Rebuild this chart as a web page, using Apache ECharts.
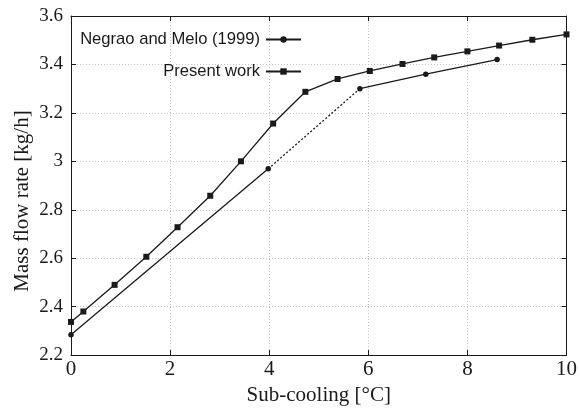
<!DOCTYPE html>
<html>
<head>
<meta charset="utf-8">
<script src="https://cdn.jsdelivr.net/npm/echarts@6/dist/echarts.min.js"></script>
<style>
  html, body { margin: 0; padding: 0; background: #fff; }
  #chart { width: 580px; height: 411px; }
</style>
</head>
<body>
<div id="chart"></div>
<script>
// Sub-cooling [°C] and mass flow rate [kg/h]
const presentX = [0, 0.25, 0.88, 1.52, 2.15, 2.81, 3.43, 4.08, 4.73, 5.38, 6.03, 6.69, 7.33, 8.0, 8.64, 9.31, 10];
const presentY = [2.337, 2.38, 2.49, 2.606, 2.728, 2.858, 3.0, 3.156, 3.287, 3.34, 3.373, 3.402, 3.429, 3.454, 3.478, 3.502, 3.524];

const negraoX = [0, 3.98, 5.83, 7.16, 8.6];
const negraoY = [2.284, 2.969, 3.30, 3.36, 3.42];
// indices of the two Negrao points joined by a dotted segment
const negraoGap = [1, 2];

const xTicks = [0, 2, 4, 6, 8, 10];
const yTicks = [2.2, 2.4, 2.6, 2.8, 3, 3.2, 3.4, 3.6];

const nameNegrao = 'Negrao and Melo (1999)';
const namePresent = 'Present work';
const xTitle = 'Sub-cooling [°C]';
const yTitle = 'Mass flow rate [kg/h]';

const pair = (xs, ys) => xs.map((x, i) => [x, ys[i]]);
const presentData = pair(presentX, presentY);
const negraoAll = pair(negraoX, negraoY);
// solid pieces: break the line across the dotted gap
const negraoSolid = [];
negraoAll.forEach((p, i) => {
  negraoSolid.push(p);
  if (i === negraoGap[0]) negraoSolid.push(['-', '-']);
});
const negraoDotted = negraoGap.map(i => negraoAll[i]);

const serif = 'Liberation Serif';
const sans = 'Liberation Sans';
const ink = '#1a1a1a';

const gridLine = { show: true, lineStyle: { color: '#c4c4c4', type: [1, 2], width: 1 } };

const legendBase = {
  right: 278, align: 'right', padding: 0,
  itemWidth: 35, itemHeight: 8, itemGap: 0,
  textStyle: { fontFamily: sans, fontSize: 16.6, color: ink, padding: [0, 1, 0, 0] },
  selectedMode: false
};

const chart = echarts.init(document.getElementById('chart'), null, { renderer: 'canvas' });
chart.setOption({
  animation: false,
  backgroundColor: '#fff',
  grid: { left: 71, right: 13, top: 16, bottom: 44, containLabel: false },
  legend: [
    Object.assign({}, legendBase, { data: [nameNegrao], top: 31 }),
    Object.assign({}, legendBase, { data: [namePresent], top: 63 })
  ],
  graphic: [{
    type: 'text', x: 22, y: 201, rotation: Math.PI / 2,
    style: { text: yTitle, font: '21px "Liberation Serif"', fill: ink,
      align: 'center', verticalAlign: 'middle' }
  }],
  xAxis: [
    {
      type: 'value', min: 0, max: 10, interval: 2,
      name: xTitle, nameLocation: 'middle', nameGap: 20,
      nameTextStyle: { fontFamily: serif, fontSize: 21, color: ink },
      axisLine: { show: true, onZero: false, lineStyle: { color: ink, width: 1 } },
      axisTick: { show: true, inside: true, length: 5, lineStyle: { color: ink } },
      axisLabel: { fontFamily: serif, fontSize: 21, color: ink, margin: 4,
        formatter: v => (xTicks.includes(v) ? String(v) : '') },
      splitLine: gridLine
    },
    {
      type: 'value', min: 0, max: 10, interval: 2, position: 'top',
      axisLine: { show: true, onZero: false, lineStyle: { color: ink, width: 1 } },
      axisTick: { show: true, inside: true, length: 5, lineStyle: { color: ink } },
      axisLabel: { show: false }, splitLine: { show: false }
    }
  ],
  yAxis: [
    {
      type: 'value', min: 2.2, max: 3.6, interval: 0.2,
      axisLine: { show: true, onZero: false, lineStyle: { color: ink, width: 1 } },
      axisTick: { show: true, inside: true, length: 5, lineStyle: { color: ink } },
      axisLabel: { fontFamily: serif, fontSize: 19, color: ink, margin: 8,
        formatter: v => {
          const t = yTicks.find(k => Math.abs(k - v) < 1e-6);
          return t === undefined ? '' : String(t);
        } },
      splitLine: gridLine
    },
    {
      type: 'value', min: 2.2, max: 3.6, interval: 0.2, position: 'right',
      axisLine: { show: true, onZero: false, lineStyle: { color: ink, width: 1 } },
      axisTick: { show: true, inside: true, length: 5, lineStyle: { color: ink } },
      axisLabel: { show: false }, splitLine: { show: false }
    }
  ],
  series: [
    {
      name: nameNegrao, type: 'line', data: negraoSolid, connectNulls: false,
      symbol: 'circle', symbolSize: 5.5, showSymbol: true, clip: false,
      lineStyle: { color: ink, width: 1.3 }, itemStyle: { color: ink }
    },
    {
      name: 'gap', type: 'line', data: negraoDotted, symbol: 'none',
      lineStyle: { color: ink, width: 1.3, type: [2, 2] }, silent: true
    },
    {
      name: namePresent, type: 'line', data: presentData,
      symbol: 'rect', symbolSize: 6, showSymbol: true, clip: false,
      lineStyle: { color: ink, width: 1.3 }, itemStyle: { color: ink }
    }
  ]
});
</script>
</body>
</html>
